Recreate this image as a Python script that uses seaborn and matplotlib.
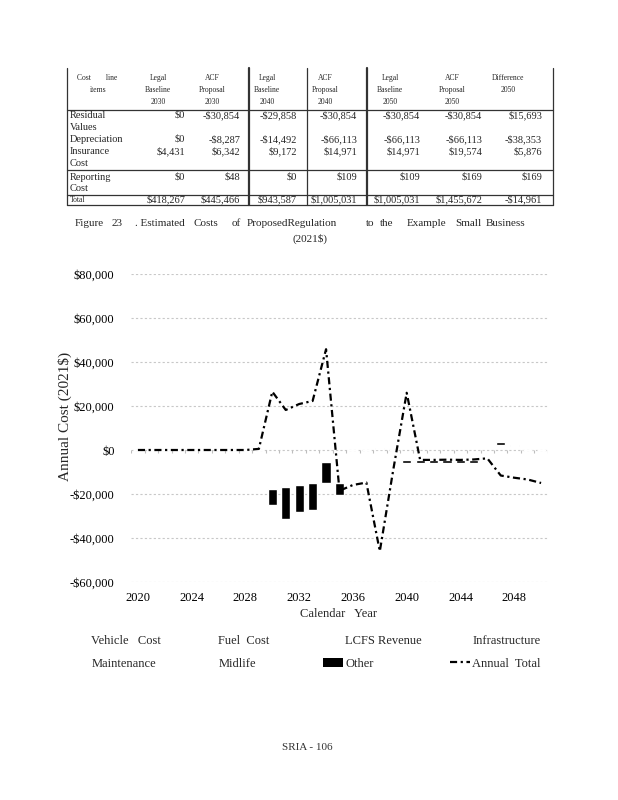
"""
Figure 23 - Estimated Costs of Proposed Regulation to the Example Small Business (2021$)
Table of cost items on top, stacked bar + annual total line below.
"""

import numpy as np
import matplotlib
matplotlib.use('Agg')
import matplotlib.pyplot as plt
import seaborn as sns
from matplotlib.patches import Patch
from matplotlib.lines import Line2D

# ---------------- data ----------------
years = list(range(2020, 2051))

# annual total (2021$)
annual_total = [0, 0, 0, 0, 0, 0, 0, 0, 0, 500,
                26500, 18200, 20900, 22300, 45800, -18500, -15900, -14800, -46000, -9000,
                26000, -4500, -4500, -4400, -4500, -4300, -3800, -11600, -12600, -13400,
                -15000]

# "Other" segment: where it starts (sum of the hidden series below it) and its size
other_base = [0, 0, 0, 0, 0, 0, 0, 0, 0, 0,
              -17700, -16700, -15900, -15000, -5500, -15000, 0, 0, 500, 0,
              -4600, -4500, -4500, -4500, -4500, -4500, -6600, 2400, 2000, 0,
              0]
other = [0, 0, 0, 0, 0, 0, 0, 0, 0, 0,
         -7100, -14700, -12300, -12100, -9400, -5300, 0, 0, 450, 0,
         -1300, -1400, -1400, -1400, -1400, -1400, -400, 1400, 400, 0,
         0]

legend_cols = [["Vehicle   Cost", "Maintenance"],
               ["Fuel  Cost", "Midlife"],
               ["LCFS Revenue", "Other"],
               ["Infrastructure", "Annual  Total"]]

# table
col_headers = [["Legal", "Baseline", "2030"], ["ACF", "Proposal", "2030"],
               ["Legal", "Baseline", "2040"], ["ACF", "Proposal", "2040"],
               ["Legal", "Baseline", "2050"], ["ACF", "Proposal", "2050"],
               ["Difference", "2050"]]
row_labels = [["Residual", "Values"], ["Depreciation"], ["Insurance", "Cost"], ["Reporting", "Cost"]]
residual = ["$0", "-$30,854", "-$29,858", "-$30,854", "-$30,854", "-$30,854", "$15,693"]
depreciation = ["$0", "-$8,287", "-$14,492", "-$66,113", "-$66,113", "-$66,113", "-$38,353"]
insurance = ["$4,431", "$6,342", "$9,172", "$14,971", "$14,971", "$19,574", "$5,876"]
reporting = ["$0", "$48", "$0", "$109", "$109", "$169", "$169"]
total = ["$418,267", "$445,466", "$943,587", "$1,005,031", "$1,005,031", "$1,455,672", "-$14,961"]

# ---------------- figure ----------------
sns.set_theme(style='white')
plt.rcParams['font.family'] = ['Liberation Serif', 'DejaVu Serif']

W, H = 618, 800
fig = plt.figure(figsize=(W / 100, H / 100), dpi=100)


def fx(x):
    return x / W


def fy(y):
    return 1 - y / H


def hline(x0, x1, y, lw=0.9):
    fig.add_artist(Line2D([fx(x0), fx(x1)], [fy(y), fy(y)], color='#333333', lw=lw))


def vline(x, y0, y1, lw=0.9):
    fig.add_artist(Line2D([fx(x), fx(x)], [fy(y0), fy(y1)], color='#333333', lw=lw))


# ---- table ----
tab_l, tab_r = 66.7, 553
hline(tab_l, tab_r, 109.5)
hline(tab_l, tab_r, 170)
hline(tab_l, tab_r, 194.5)
hline(tab_l, tab_r, 205)
vline(tab_l, 68, 205)
vline(249, 68, 205, lw=1.6)
vline(307, 68, 205)
vline(367, 68, 205, lw=1.6)
vline(tab_r, 68, 205)

hdr_x = [158, 212, 267, 325, 390, 452, 508]
hdr_y = [78.5, 90.5, 102.5]
fig.text(fx(97), fy(hdr_y[0]), "Cost        line", fontsize=5.5, ha='center', va='center')
fig.text(fx(98), fy(hdr_y[1]), "items", fontsize=5.5, ha='center', va='center')
for x, lines in zip(hdr_x, col_headers):
    for y, t in zip(hdr_y, lines):
        fig.text(fx(x), fy(y), t, fontsize=5.5, ha='center', va='center')

val_right = [185, 240, 297, 357, 420, 482, 542]
row_y = [[115.5, 127.5], [139.5], [151, 163], [177, 188.5]]
for labels, ys, vals in zip(row_labels, row_y, [residual, depreciation, insurance, reporting]):
    for t, y in zip(labels, ys):
        fig.text(fx(70), fy(y), t, fontsize=7.5, ha='left', va='center')
    for x, v in zip(val_right, vals):
        fig.text(fx(x), fy(ys[0]), v, fontsize=7.5, ha='right', va='center')
fig.text(fx(70), fy(199.5), "Total", fontsize=5.5, ha='left', va='center')
for x, v in zip(val_right, total):
    fig.text(fx(x), fy(199.5), v, fontsize=7.5, ha='right', va='center')

# ---- caption ----
cap_words = [("Figure", 75), ("23", 111.7), (". Estimated", 135), ("Costs", 193), ("of", 231.7),
             ("ProposedRegulation", 246.7), ("to", 366), ("the", 380), ("Example", 406.7),
             ("Small", 455), ("Business", 486)]
for t, x in cap_words:
    fig.text(fx(x), fy(224), t, fontsize=8, ha='left', va='center')
fig.text(fx(310), fy(238.5), "(2021$)", fontsize=8, ha='center', va='center')

# ---- chart ----
ax = fig.add_axes([fx(131.2), fy(582), (547.8 - 131.2) / W, (582 - 274) / H])
ax.set_facecolor('white')
for s in ax.spines.values():
    s.set_visible(False)

ax.bar(years, other, bottom=other_base, width=0.68, color='black', zorder=3)
sns.lineplot(x=years, y=annual_total, ax=ax, color='black', lw=1.6, zorder=4)
ax.lines[-1].set_linestyle((0, (3.2, 1.6, 1, 1.6)))

ax.set_xlim(2019.5, 2050.5)
ax.set_ylim(-60000, 80000)
ax.set_yticks(range(-60000, 80001, 20000))
ax.set_yticklabels([f"${v:,}" if v >= 0 else f"-${-v:,}" for v in range(-60000, 80001, 20000)])
ax.set_xticks(years[::4])
ax.set_xticklabels([str(y) for y in years[::4]])
ax.yaxis.grid(True, color='#c8c8c8', linestyle=(0, (2, 2)), lw=0.8, zorder=0)
ax.xaxis.grid(False)
ax.tick_params(axis='both', length=0, labelsize=9, colors='black')
ax.tick_params(axis='y', pad=12)
ax.tick_params(axis='x', pad=7)
# little tick marks on the zero axis
ax.vlines(np.arange(2019.5, 2051, 1), -1300, 0, color='#bdbdbd', lw=0.8, zorder=1)
ax.set_xlabel('')
ax.set_ylabel('')

fig.text(fx(65), fy(416), "Annual Cost (2021$)", fontsize=11, rotation=90, ha='center', va='center')
fig.text(fx(338), fy(614), "Calendar   Year", fontsize=9, ha='center', va='center')

# ---- legend (one small legend per column) ----
hidden = Patch(facecolor='white', edgecolor='none')
handles = {"Other": Patch(facecolor='black', edgecolor='none'),
           "Annual  Total": Line2D([], [], color='black', lw=1.6, linestyle=(0, (3.2, 1.6, 1, 1.6)))}
col_x = [69.3, 196.3, 323.3, 450.3]
for x, labels in zip(col_x, legend_cols):
    hs = [handles.get(t, hidden) for t in labels]
    fig.legend(hs, labels, loc='upper left', bbox_to_anchor=(fx(x), fy(635)),
               frameon=False, fontsize=9, handlelength=1.55, handletextpad=0.2,
               borderpad=0, borderaxespad=0, labelspacing=0.85)

fig.text(fx(307), fy(747), "SRIA - 106", fontsize=8, ha='center', va='center', color='#333333')

fig.savefig('out.png', dpi=100)
